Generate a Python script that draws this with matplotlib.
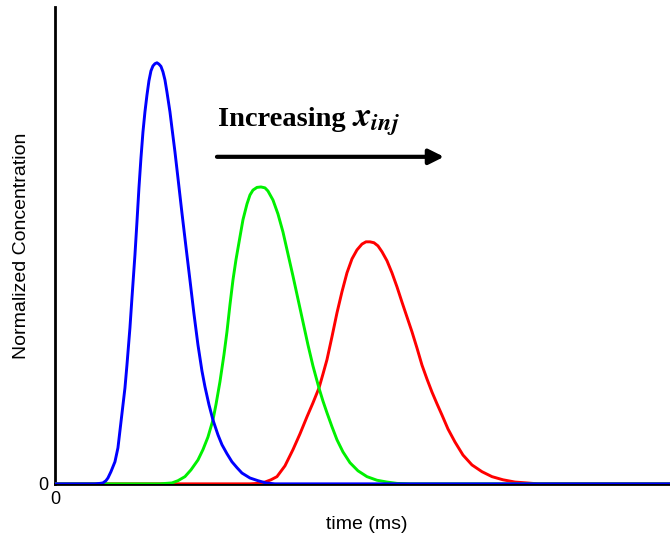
import matplotlib
matplotlib.use("Agg")
import matplotlib.pyplot as plt

# peak curves (time in ms, normalized concentration)
blue_t = [0, 0.80, 0.90, 0.96, 1.02, 1.06, 1.12, 1.20, 1.26, 1.34, 1.40, 1.44, 1.50, 1.54,
          1.60, 1.64, 1.68, 1.72, 1.76, 1.80, 1.84, 1.88, 1.92, 1.96, 2.00, 2.04, 2.08,
          2.12, 2.16, 2.20, 2.24, 2.30, 2.34, 2.40, 2.46, 2.54, 2.62, 2.70, 2.78, 2.86,
          2.94, 3.00, 3.08, 3.16, 3.26, 3.34, 3.44, 3.54, 3.64, 3.74, 3.90, 4.06, 4.22,
          4.40, 12.3]
blue_c = [0, 0, 0.001, 0.002, 0.007, 0.013, 0.027, 0.049, 0.080, 0.156, 0.213, 0.264, 0.347,
          0.413, 0.509, 0.582, 0.658, 0.724, 0.782, 0.827, 0.864, 0.896, 0.918, 0.929,
          0.934, 0.936, 0.933, 0.928, 0.916, 0.898, 0.871, 0.827, 0.791, 0.738, 0.680,
          0.602, 0.527, 0.453, 0.378, 0.309, 0.251, 0.216, 0.176, 0.142, 0.109, 0.087,
          0.067, 0.049, 0.036, 0.024, 0.013, 0.007, 0.002, 0, 0]

green_t = [0, 2.10, 2.34, 2.46, 2.60, 2.72, 2.86, 2.96, 3.06, 3.16, 3.22, 3.30, 3.38, 3.44,
           3.50, 3.56, 3.62, 3.70, 3.76, 3.84, 3.90, 3.96, 4.04, 4.12, 4.20, 4.26, 4.36,
           4.46, 4.56, 4.66, 4.76, 4.86, 4.96, 5.06, 5.16, 5.28, 5.36, 5.44, 5.54, 5.64,
           5.76, 5.90, 6.06, 6.24, 6.44, 6.64, 6.84, 7.10, 12.3]
green_c = [0, 0, 0.002, 0.007, 0.016, 0.031, 0.053, 0.076, 0.104, 0.142, 0.176, 0.227, 0.287,
           0.338, 0.398, 0.453, 0.498, 0.549, 0.587, 0.622, 0.642, 0.653, 0.659, 0.660,
           0.658, 0.651, 0.631, 0.600, 0.560, 0.511, 0.462, 0.411, 0.360, 0.309, 0.262,
           0.213, 0.184, 0.158, 0.127, 0.098, 0.071, 0.047, 0.029, 0.016, 0.008, 0.004,
           0.001, 0, 0]

red_t = [0, 3.90, 4.06, 4.20, 4.32, 4.44, 4.60, 4.76, 4.90, 5.04, 5.16, 5.28, 5.36, 5.44,
         5.54, 5.64, 5.74, 5.84, 5.94, 6.04, 6.14, 6.22, 6.30, 6.38, 6.46, 6.54, 6.64, 6.74,
         6.84, 6.94, 7.04, 7.14, 7.24, 7.34, 7.44, 7.54, 7.64, 7.74, 7.86, 8.00, 8.16, 8.34,
         8.54, 8.74, 8.96, 9.20, 9.44, 9.66, 12.3]
red_c = [0, 0, 0.001, 0.004, 0.009, 0.016, 0.040, 0.076, 0.111, 0.149, 0.180, 0.213, 0.244,
         0.276, 0.327, 0.380, 0.427, 0.469, 0.500, 0.520, 0.533, 0.538, 0.538, 0.536, 0.529,
         0.516, 0.496, 0.469, 0.438, 0.404, 0.371, 0.338, 0.302, 0.264, 0.233, 0.204, 0.178,
         0.153, 0.122, 0.093, 0.064, 0.042, 0.027, 0.016, 0.009, 0.004, 0.002, 0, 0]

plt.rcParams['mathtext.fontset'] = 'custom'
plt.rcParams['mathtext.it'] = 'STIXGeneral:bold:italic'
plt.rcParams['mathtext.rm'] = 'Liberation Serif:bold'

fig = plt.figure(figsize=(6.7, 5.4), dpi=100)
ax = fig.add_axes([0.082, 0.104, 0.918, 0.883])

ax.plot(red_t, red_c, color='#ff0000', lw=2.1, solid_joinstyle='round')
ax.plot(green_t, green_c, color='#00f000', lw=2.1, solid_joinstyle='round')
ax.plot(blue_t, blue_c, color='#0000ff', lw=2.1, solid_joinstyle='round')

ax.set_xlim(0, 12.3)
ax.set_ylim(0, 1.06)
for s in ['top', 'right']:
    ax.spines[s].set_visible(False)
for s in ['left', 'bottom']:
    ax.spines[s].set_linewidth(2)
    ax.spines[s].set_zorder(0)
ax.set_xticks([0])
ax.set_yticks([0])
ax.tick_params(length=0, labelsize=13, pad=5)
for lab in ax.get_xticklabels() + ax.get_yticklabels():
    lab.set_family('Liberation Sans')

ax.set_xlabel('time (ms)', family='Liberation Sans', fontsize=14)
ax.xaxis.set_label_coords(0.507, -0.068)
ax.set_ylabel('Normalized Concentration', family='Liberation Sans', fontsize=14, labelpad=6)

ax.text(3.26, 0.795, 'Increasing', family='Liberation Serif', fontweight='bold',
        fontsize=20.5, ha='left', va='baseline')
ax.text(5.95, 0.795, r'$x_{inj}$', fontsize=25, ha='left', va='baseline')
ax.annotate('', xy=(7.78, 0.727), xytext=(3.24, 0.727),
            arrowprops=dict(arrowstyle='-|>,head_length=0.9,head_width=0.45', lw=3,
                            color='black', shrinkA=0, shrinkB=0))

fig.savefig('out.png')
